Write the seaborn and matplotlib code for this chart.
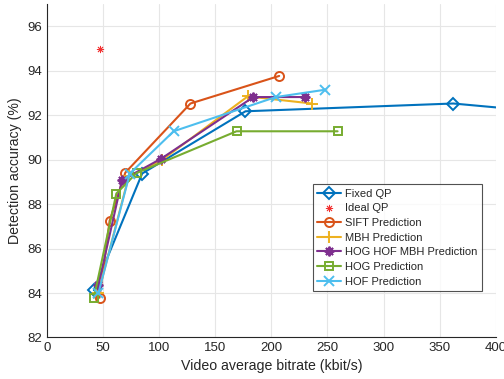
import pandas as pd
import numpy as np
import matplotlib
matplotlib.use("Agg")
import matplotlib.pyplot as plt
import seaborn as sns

# values (bitrate kbit/s, accuracy %)
fixed_x = [42, 85, 177, 362, 520]
fixed_y = [84.13, 89.38, 92.18, 92.53, 91.8]
ideal_x = [47]
ideal_y = [95.0]
sift_x = [47, 56, 70, 128, 207]
sift_y = [83.79, 87.25, 89.42, 92.53, 93.77]
mbh_x = [46, 73, 103, 179, 236]
mbh_y = [84.0, 89.25, 90.0, 92.85, 92.53]
hhm_x = [46, 67, 102, 184, 230]
hhm_y = [84.36, 89.08, 90.05, 92.82, 92.82]
hog_x = [42, 62, 80, 169, 259]
hog_y = [83.79, 88.48, 89.4, 91.28, 91.28]
hof_x = [46, 74, 113, 204, 248]
hof_y = [83.99, 89.38, 91.28, 92.82, 93.15]

asterisk = (8, 2, 0)
series = [
    ("Fixed QP", fixed_x, fixed_y, "#0072BD", "D", 6),
    ("SIFT Prediction", sift_x, sift_y, "#D95319", "o", 6.5),
    ("MBH Prediction", mbh_x, mbh_y, "#EDB120", "+", 8),
    ("HOG HOF MBH Prediction", hhm_x, hhm_y, "#7E2F8E", asterisk, 7),
    ("HOG Prediction", hog_x, hog_y, "#77AC30", "s", 6),
    ("HOF Prediction", hof_x, hof_y, "#4DBEEE", "x", 6.5),
]

sns.set_style("white")
plt.rcParams['font.family'] = ['Liberation Sans', 'DejaVu Sans']

fig = plt.figure(figsize=(5.04, 3.79), dpi=100)
ax = fig.add_axes([0.0927, 0.1095, 0.8913, 0.8795])

for name, xs, ys, col, mk, ms in series:
    df = pd.DataFrame({"x": xs, "y": ys})
    sns.lineplot(data=df, x="x", y="y", sort=False, color=col, lw=1.5,
                 marker=mk, markersize=ms,
                 markerfacecolor="none", markeredgecolor=col,
                 markeredgewidth=1.4, ax=ax, label=name)
    if name == "Fixed QP":
        sns.scatterplot(x=ideal_x, y=ideal_y, marker=asterisk, color="#F23030",
                        s=22, linewidth=0.6, edgecolor="#F23030",
                        ax=ax, label="Ideal QP")

ax.set_xlim(0, 400)
ax.set_ylim(82, 97)
ax.set_xticks(np.arange(0, 401, 50))
ax.set_yticks(np.arange(82, 97, 2))
ax.grid(True, color="#e6e6e6", lw=0.8)
ax.set_axisbelow(True)
for s in ["top", "right"]:
    ax.spines[s].set_visible(False)
for s in ["left", "bottom"]:
    ax.spines[s].set_color("#262626")
    ax.spines[s].set_linewidth(0.8)
ax.tick_params(direction="in", length=4, width=0.8, colors="#262626",
               labelsize=9.5, pad=3)
ax.set_xlabel("Video average bitrate (kbit/s)", fontsize=10.2, color="#262626")
ax.set_ylabel("Detection accuracy (%)", fontsize=10.2, color="#262626")

leg = ax.legend(loc="upper right", bbox_to_anchor=(0.968, 0.46), fontsize=8,
                frameon=True, fancybox=False, edgecolor="#262626",
                handlelength=2.2, borderpad=0.4, labelspacing=0.42,
                handletextpad=0.3, borderaxespad=0)
leg.get_frame().set_linewidth(0.8)

fig.savefig("out.png", dpi=100)
